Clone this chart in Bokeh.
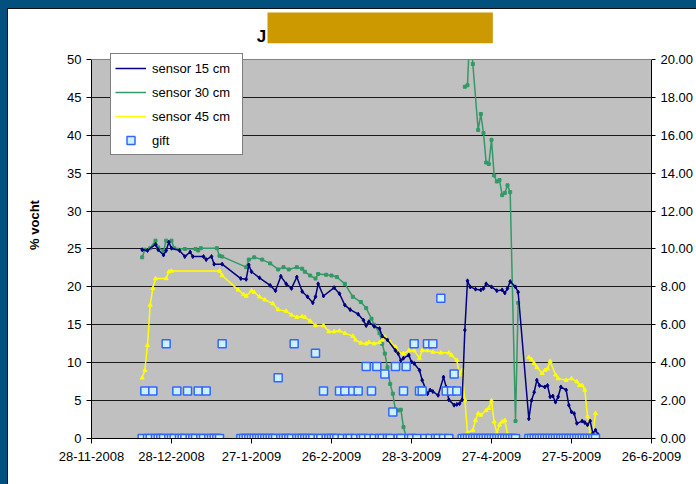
import numpy as np
import pandas as pd
from bokeh.plotting import figure
from bokeh.models import (Range1d, LinearAxis, FixedTicker, PrintfTickFormatter, Span,
                          Legend, LegendItem, Label, BoxAnnotation, ColumnDataSource)
from bokeh.embed import file_html
from bokeh.resources import INLINE

# ---------------- data ----------------
s15_dates = ["2008-12-17", "2008-12-19", "2008-12-22", "2008-12-23", "2008-12-25", "2008-12-26",
             "2008-12-27", "2008-12-28", "2008-12-31", "2009-01-02", "2009-01-04", "2009-01-05",
             "2009-01-09", "2009-01-10", "2009-01-12", "2009-01-13", "2009-01-16", "2009-01-23",
             "2009-01-25", "2009-01-26", "2009-01-27", "2009-01-30", "2009-02-03", "2009-02-05",
             "2009-02-07", "2009-02-09", "2009-02-11", "2009-02-13", "2009-02-15", "2009-02-17",
             "2009-02-19", "2009-02-20", "2009-02-21", "2009-02-23", "2009-02-27", "2009-03-01",
             "2009-03-03", "2009-03-05", "2009-03-08", "2009-03-10", "2009-03-11", "2009-03-12",
             "2009-03-14", "2009-03-16", "2009-03-17", "2009-03-19", "2009-03-22", "2009-03-23",
             "2009-03-24", "2009-03-25", "2009-03-27", "2009-03-28", "2009-03-29", "2009-03-31",
             "2009-04-01", "2009-04-03", "2009-04-04", "2009-04-05", "2009-04-07", "2009-04-09",
             "2009-04-10", "2009-04-11", "2009-04-13", "2009-04-14", "2009-04-15", "2009-04-16",
             "2009-04-17", "2009-04-18", "2009-04-19", "2009-04-21", "2009-04-23", "2009-04-24",
             "2009-04-25", "2009-04-27", "2009-04-29", "2009-05-01", "2009-05-02", "2009-05-03",
             "2009-05-04", "2009-05-06", "2009-05-07", "2009-05-11", "2009-05-12", "2009-05-13",
             "2009-05-14", "2009-05-15", "2009-05-17", "2009-05-18", "2009-05-19", "2009-05-20",
             "2009-05-21", "2009-05-22", "2009-05-23", "2009-05-25", "2009-05-26", "2009-05-27",
             "2009-05-28", "2009-05-29", "2009-05-31", "2009-06-01", "2009-06-02", "2009-06-03",
             "2009-06-04", "2009-06-05", "2009-06-06"]
s15_values = [24.9, 24.8, 25.6, 24.9, 24.2, 24.8,
              25.9, 25.1, 24.8, 24.0, 24.6, 24.0,
              24.0, 23.6, 24.0, 23.0, 23.0, 21.1,
              21.0, 22.9, 22.0, 21.2, 20.2, 19.5,
              21.4, 20.4, 19.8, 21.3, 19.4, 18.7,
              17.9, 18.7, 20.4, 18.8, 19.9, 19.1,
              17.6, 17.0, 16.4, 15.6, 14.9, 15.4,
              14.8, 14.5, 13.5, 13.0, 11.6, 11.2,
              10.3, 10.6, 11.0, 10.1, 9.9, 9.0,
              7.7, 5.9, 6.4, 6.2, 5.7, 8.1,
              6.8, 5.1, 4.4, 4.5, 4.6, 5.1,
              14.3, 20.8, 20.0, 19.7, 19.6, 19.8,
              20.4, 20.0, 19.5, 19.6, 19.2, 19.8,
              20.7, 20.0, 19.3, 2.6, 5.0, 6.1,
              7.7, 7.0, 6.8, 7.0, 5.5, 5.6,
              4.8, 5.5, 6.8, 6.4, 4.4, 3.5,
              3.3, 2.0, 2.3, 2.1, 1.8, 2.3,
              0.7, 1.1, 0.5]

s30_dates = ["2008-12-17", "2008-12-18", "2008-12-20", "2008-12-22", "2008-12-23", "2008-12-25",
             "2008-12-26", "2008-12-28", "2008-12-29", "2009-01-02", "2009-01-06", "2009-01-07",
             "2009-01-08", "2009-01-14", "2009-01-15", "2009-01-16", "2009-01-25", "2009-01-26",
             "2009-01-28", "2009-01-31", "2009-02-03", "2009-02-06", "2009-02-08", "2009-02-10",
             "2009-02-13", "2009-02-15", "2009-02-16", "2009-02-18", "2009-02-20", "2009-02-21",
             "2009-02-24", "2009-02-26", "2009-02-28", "2009-03-03", "2009-03-06", "2009-03-09",
             "2009-03-11", "2009-03-13", "2009-03-14", "2009-03-16", "2009-03-17", "2009-03-18",
             "2009-03-19", "2009-03-20", "2009-03-21", "2009-03-22", "2009-03-23", "2009-03-24",
             "2009-03-25", "2009-03-26", "2009-04-10", "2009-04-17", "2009-04-18", "2009-04-19",
             "2009-04-20", "2009-04-22", "2009-04-23", "2009-04-24", "2009-04-25", "2009-04-26",
             "2009-04-27", "2009-04-28", "2009-04-29", "2009-04-30", "2009-05-01", "2009-05-02",
             "2009-05-03", "2009-05-04", "2009-05-06", "2009-05-07"]
s30_values = [23.9, 24.9, 25.1, 26.1, 25.2, 24.7,
              26.1, 26.1, 25.1, 25.0, 25.0, 24.8,
              25.1, 25.1, 24.1, 24.0, 22.6, 23.6,
              23.9, 23.6, 23.1, 22.3, 22.6, 22.3,
              22.6, 22.4, 22.0, 21.5, 21.1, 21.7,
              21.6, 21.5, 21.3, 20.4, 18.7, 18.0,
              17.2, 15.8, 15.0, 13.9, 12.5, 11.2,
              9.4, 7.2, 5.9, 3.7, 3.7, 3.8,
              1.5, 0.2, None, 46.4, 46.6, 55.0,
              49.4, 40.7, 42.8, 40.3, 36.4, 36.2,
              39.4, 34.7, 33.9, 34.1, 32.1, 32.4,
              33.4, 32.5, 2.3, 17.9]

s45_dates = ["2008-12-17", "2008-12-18", "2008-12-19", "2008-12-20", "2008-12-21", "2008-12-22",
             "2008-12-26", "2008-12-27", "2008-12-28", "2009-01-15", "2009-01-16", "2009-01-22",
             "2009-01-24", "2009-01-25", "2009-01-27", "2009-01-28", "2009-01-30", "2009-02-01",
             "2009-02-04", "2009-02-06", "2009-02-09", "2009-02-11", "2009-02-13", "2009-02-15",
             "2009-02-16", "2009-02-18", "2009-02-20", "2009-02-23", "2009-02-25", "2009-02-27",
             "2009-03-01", "2009-03-03", "2009-03-06", "2009-03-07", "2009-03-09", "2009-03-11",
             "2009-03-12", "2009-03-14", "2009-03-16", "2009-03-17", "2009-03-18", "2009-03-20",
             "2009-03-22", "2009-03-23", "2009-03-25", "2009-03-27", "2009-03-29", "2009-03-31",
             "2009-04-01", "2009-04-03", "2009-04-05", "2009-04-08", "2009-04-11", "2009-04-12",
             "2009-04-14", "2009-04-15", "2009-04-16", "2009-04-17", "2009-04-18", "2009-04-20",
             "2009-04-21", "2009-04-22", "2009-04-23", "2009-04-25", "2009-04-26", "2009-04-27",
             "2009-04-28", "2009-04-29", "2009-04-30", "2009-05-01", "2009-05-02", "2009-05-03",
             "2009-05-07", "2009-05-11", "2009-05-12", "2009-05-13", "2009-05-14", "2009-05-16",
             "2009-05-17", "2009-05-18", "2009-05-19", "2009-05-21", "2009-05-22", "2009-05-25",
             "2009-05-27", "2009-05-29", "2009-05-30", "2009-05-31", "2009-06-01", "2009-06-02",
             "2009-06-03", "2009-06-04", "2009-06-05"]
s45_values = [8.0, 9.0, 12.3, 17.6, 19.8, 21.1,
              21.1, 22.0, 22.1, 22.1, 21.5, 19.6,
              19.0, 18.8, 19.5, 19.3, 18.7, 18.3,
              17.8, 17.0, 16.8, 16.3, 16.0, 16.1,
              16.0, 15.5, 14.9, 14.9, 14.1, 14.1,
              14.2, 13.9, 13.5, 13.0, 12.6, 12.5,
              12.7, 12.5, 12.7, 13.0, 13.4, 12.7,
              12.1, 11.4, 11.2, 11.6, 11.6, 10.6,
              11.6, 11.6, 11.4, 11.3, 11.3, 11.0,
              10.3, 8.4, 9.0, 5.1, 0.8, 1.1,
              2.4, 3.3, 3.1, 3.7, 4.0, 5.0,
              2.2, 0.7, 1.8, 2.2, 2.4, 0.6,
              None, 10.7, 10.4, 9.9, 9.4, 8.6,
              9.0, 9.2, 10.2, 8.4, 7.9, 7.7,
              7.9, 7.5, 7.0, 7.0, 6.4, 2.9,
              0.7, 0.7, 3.3]

# gift (right axis), one value per day starting at gift_start
gift_start = "2008-12-17"
gift_values = [0, 2.5, 0, 0, 2.5, 0, 0, 0, 0, 5,
               0, 0, 0, 2.5, 0, 0, 0, 2.5, 0, 0,
               0, 2.5, 0, 0, 2.5, 0, 0, 0, 0, 0,
               5, None, None, None, None, None, None, 0, 0, 0,
               0, 0, 0, 0, 0, 0, 0, 0, 0, 0,
               0, 3.2, 0, 0, 0, 0, 0, 5, 0, 0,
               0, 0, 0, 0, 0, 4.5, 0, 0, 2.5, 0,
               0, 0, 0, 0, 2.5, 0, 2.5, 0, 0, 2.5,
               0, 2.5, 0, 0, 3.8, 0, 2.5, 0, 3.8, 0,
               0, 3.4, 0, 0, 1.4, 3.8, 0, 0, 2.5, 3.8,
               0, 0, 5, 0, 2.5, 2.5, 0, 5, 0, 5,
               0, 0, 7.4, 0, 2.5, 0, 2.5, 3.4, 2.5, None,
               0, 0, 0, 0, 0, 0, 0, 0, 0, 0,
               0, 0, 0, 0, 0, 0, 0, 0, 0, 0,
               0, None, None, None, None, 0, 0, 0, 0, 0,
               0, 0, 0, 0, 0, 0, 0, 0, 0, 0,
               0, 0, 0, 0, 0, 0, 0, 0, 0, 0,
               0]

x_tick_dates = ["2008-11-28", "2008-12-28", "2009-01-27", "2009-02-26",
                "2009-03-28", "2009-04-27", "2009-05-27", "2009-06-26"]
x_tick_labels = ["28-11-2008", "28-12-2008", "27-1-2009", "26-2-2009",
                 "28-3-2009", "27-4-2009", "27-5-2009", "26-6-2009"]
y_ticks = [0, 5, 10, 15, 20, 25, 30, 35, 40, 45, 50]
y2_ticks = [0, 2, 4, 6, 8, 10, 12, 14, 16, 18, 20]
series_names = ["sensor 15 cm", "sensor 30 cm", "sensor 45 cm", "gift"]
title_text = "J"
y_label = "% vocht"

# ---------------- figure ----------------
FONT = "Liberation Sans"
Y_TOP = 56.33          # room above the plot area for the title row
Y2_TOP = Y_TOP * y2_ticks[-1] / y_ticks[-1]


def ms(s):
    return pd.Timestamp(s).value / 1e6


p = figure(width=688, height=475, x_axis_type="datetime", output_backend="svg",
           toolbar_location=None,
           x_range=Range1d(ms(x_tick_dates[0]), ms(x_tick_dates[-1])),
           y_range=Range1d(y_ticks[0], Y_TOP),
           min_border_left=83, min_border_right=41, min_border_top=2, min_border_bottom=46)
p.background_fill_color = "white"
p.border_fill_color = "white"
p.outline_line_color = None
p.extra_y_ranges = {"gift": Range1d(y2_ticks[0], Y2_TOP)}

# grey plot area (0..50)
p.add_layout(BoxAnnotation(bottom=y_ticks[0], top=y_ticks[-1], fill_color="#c0c0c0",
                           fill_alpha=1, line_color=None, level="image"))

tick_ms = [ms(d) for d in x_tick_dates]
overrides = {}
for t, lab in zip(tick_ms, x_tick_labels):
    overrides[t] = lab
    overrides[str(int(t))] = lab

xa = p.xaxis[0]
xa.ticker = FixedTicker(ticks=tick_ms)
xa.major_label_overrides = overrides
xa.major_label_text_font = FONT
xa.major_label_text_font_size = "13px"
xa.major_label_text_color = "black"
xa.major_label_standoff = 8
xa.major_tick_out = 5
xa.major_tick_in = 0
xa.minor_tick_out = 0
xa.minor_tick_in = 0
xa.axis_line_color = "black"
xa.major_tick_line_color = "black"

ya = p.yaxis[0]
ya.ticker = FixedTicker(ticks=y_ticks)
ya.bounds = (y_ticks[0], y_ticks[-1])
ya.major_label_text_font = FONT
ya.major_label_text_font_size = "13px"
ya.major_label_text_color = "black"
ya.major_label_standoff = 5
ya.major_tick_out = 5
ya.major_tick_in = 0
ya.minor_tick_out = 0
ya.minor_tick_in = 0
ya.axis_line_color = "black"
ya.major_tick_line_color = "black"
ya.axis_label = y_label
ya.axis_label_text_font = FONT
ya.axis_label_text_font_size = "13px"
ya.axis_label_text_font_style = "bold"
ya.axis_label_text_color = "black"
ya.axis_label_standoff = 22

ra = LinearAxis(y_range_name="gift", ticker=FixedTicker(ticks=y2_ticks),
                formatter=PrintfTickFormatter(format="%.2f"),
                bounds=(y2_ticks[0], y2_ticks[-1]))
ra.major_label_text_font = FONT
ra.major_label_text_font_size = "13px"
ra.major_label_text_color = "black"
ra.major_label_standoff = 5
ra.major_tick_out = 4
ra.major_tick_in = 0
ra.minor_tick_out = 0
ra.minor_tick_in = 0
ra.axis_line_color = "black"
ra.major_tick_line_color = "black"
p.add_layout(ra, "right")

p.xgrid.grid_line_color = None
p.ygrid.ticker = FixedTicker(ticks=y_ticks[1:-1])
p.ygrid.grid_line_color = "#1a1a1a"
p.ygrid.grid_line_width = 1


def src(dates, values):
    return ColumnDataSource(dict(x=pd.to_datetime(dates),
                                 y=np.array(values, dtype=float)))


c15, c30, c45 = "#000080", "#339966", "#ffff00"

src15 = src(s15_dates, s15_values)
src30 = src(s30_dates, s30_values)
src45 = src(s45_dates, s45_values)

l30 = p.line("x", "y", source=src30, line_color=c30, line_width=1.5)
p.scatter("x", "y", source=src30, marker="square", size=3, fill_color=c30, line_color=c30)
l45 = p.line("x", "y", source=src45, line_color=c45, line_width=1.5)
p.scatter("x", "y", source=src45, marker="triangle", size=4, fill_color=c45, line_color=c45)
l15 = p.line("x", "y", source=src15, line_color=c15, line_width=1.5)
p.scatter("x", "y", source=src15, marker="diamond", size=4, fill_color=c15, line_color=c15)

gift_src = ColumnDataSource(dict(
    x=pd.date_range(gift_start, periods=len(gift_values), freq="D"),
    y=np.array(gift_values, dtype=float)))
mg = p.scatter("x", "y", source=gift_src, y_range_name="gift", marker="square", size=8,
               fill_color="#ccf2ff", line_color="#3366ff", line_width=1.5)

# white strip above the plot area: lines are cut off at the top (50)
p.add_layout(BoxAnnotation(bottom=y_ticks[-1], top=Y_TOP, fill_color="white",
                           fill_alpha=1, line_color=None))
p.add_layout(Span(location=y_ticks[-1], dimension="width", line_color="#808080",
                  line_width=1))

legend = Legend(items=[LegendItem(label=series_names[0], renderers=[l15]),
                       LegendItem(label=series_names[1], renderers=[l30]),
                       LegendItem(label=series_names[2], renderers=[l45]),
                       LegendItem(label=series_names[3], renderers=[mg])],
                location=(19, 283))
legend.border_line_color = "black"
legend.border_line_width = 1
legend.background_fill_color = "white"
legend.background_fill_alpha = 1
legend.label_text_font = FONT
legend.label_text_font_size = "13px"
legend.label_text_color = "black"
legend.glyph_width = 31
legend.glyph_height = 20
legend.label_height = 20
legend.label_width = 86
legend.spacing = 4
legend.padding = 4
legend.margin = 0
legend.label_standoff = 6
p.add_layout(legend)

# title (partly covered by an orange block in the original)
p.add_layout(Label(x=ms("2009-01-29"), y=53.0, text=title_text, text_font=FONT,
                   text_font_size="17px", text_font_style="bold", text_color="black",
                   text_align="left", text_baseline="alphabetic"))
p.add_layout(BoxAnnotation(left=ms("2009-02-02"), right=ms("2009-04-27") + 12 * 3600e3,
                           bottom=52.15, top=56.2, fill_color="#cc9900", fill_alpha=1,
                           line_color=None))

TEMPLATE = """{% block preamble %}<style>
html { background: #01507d; }
html body { margin: 8px 0 0 7px !important; padding: 0 !important;
            border-top: 1px solid #111111; border-left: 1px solid #111111;
            background: #ffffff; height: 476px !important; overflow: hidden; }
</style>{% endblock %}"""

open("out.html", "w").write(file_html(p, INLINE, template=TEMPLATE))
